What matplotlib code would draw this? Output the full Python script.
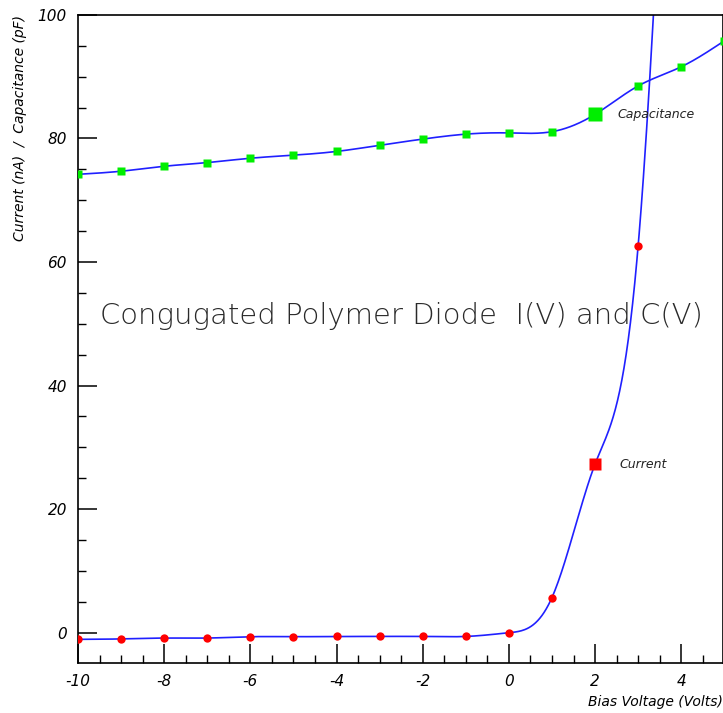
import numpy as np
import matplotlib.pyplot as plt
from matplotlib.ticker import MultipleLocator

plt.rcParams["axes.unicode_minus"] = False

# bias voltage points
voltage = [-10, -9, -8, -7, -6, -5, -4, -3, -2, -1, 0, 1, 2, 3, 4, 5]
# capacitance (pF)
capacitance = [74.2, 74.7, 75.5, 76.1, 76.8, 77.3, 77.9, 78.9, 79.9, 80.7,
               80.9, 81.1, 83.9, 88.5, 91.6, 95.8]
# current (nA); last two points are off the top of the frame
current = [-1.07, -1.0, -0.86, -0.86, -0.64, -0.64, -0.6, -0.6, -0.6, -0.6,
           0.0, 5.7, 27.3, 62.6, 190.0, 320.0]

title = "Congugated Polymer Diode  I(V) and C(V)"


def spline(x, y, n=600):
    # natural cubic spline, used only to draw the smooth curve through the points
    x = np.asarray(x, float)
    y = np.asarray(y, float)
    h = np.diff(x)
    m = len(x)
    A = np.zeros((m, m))
    b = np.zeros(m)
    A[0, 0] = A[-1, -1] = 1
    for i in range(1, m - 1):
        A[i, i - 1] = h[i - 1]
        A[i, i] = 2 * (h[i - 1] + h[i])
        A[i, i + 1] = h[i]
        b[i] = 6 * ((y[i + 1] - y[i]) / h[i] - (y[i] - y[i - 1]) / h[i - 1])
    M = np.linalg.solve(A, b)
    xs = np.linspace(x[0], x[-1], n)
    k = np.clip(np.searchsorted(x, xs) - 1, 0, m - 2)
    t0 = xs - x[k]
    t1 = x[k + 1] - xs
    hk = h[k]
    ys = (M[k] * t1**3 + M[k + 1] * t0**3) / (6 * hk) \
        + (y[k] / hk - M[k] * hk / 6) * t1 + (y[k + 1] / hk - M[k + 1] * hk / 6) * t0
    return xs, ys


fig = plt.figure(figsize=(7.23, 7.13), dpi=100)
ax = fig.add_axes([0.108, 0.0701, 0.892, 0.909])

line_col = "#2020ff"
xs, ys = spline(voltage, capacitance)
ax.plot(xs, ys, color=line_col, lw=1.2, zorder=2)
xs, ys = spline(voltage, current)
ax.plot(xs, ys, color=line_col, lw=1.2, zorder=2)

ax.plot(voltage, capacitance, "s", color="#00ee00", ms=6, mec="none", zorder=3)
ax.plot(voltage, current, "o", color="#ff0000", ms=6, mec="none", zorder=3)
# bigger markers where the labels are attached
ax.plot(voltage[12], capacitance[12], "s", color="#00ee00", ms=10, mec="none", zorder=3)
ax.plot(voltage[12], current[12], "s", color="#ff0000", ms=9, mec="none", zorder=3)

ax.text(2.52, capacitance[12], "Capacitance", fontsize=9, style="italic",
        va="center", ha="left", color="#222222")
ax.text(2.57, current[12], "Current", fontsize=9, style="italic",
        va="center", ha="left", color="#222222")
ax.text(-9.5, 51.2, title, fontsize=21, family="DejaVu Sans",
        fontweight="light", va="center", ha="left", color="#2a2a2a")

ax.set_xlim(-10, 4.97)
ax.set_ylim(-4.9, 100)
ax.xaxis.set_major_locator(MultipleLocator(2))
ax.xaxis.set_minor_locator(MultipleLocator(0.5))
ax.yaxis.set_major_locator(MultipleLocator(20))
ax.yaxis.set_minor_locator(MultipleLocator(5))
ax.tick_params(which="major", direction="in", length=14, width=1.1,
               labelsize=11, pad=8)
ax.tick_params(which="minor", direction="in", length=6, width=1.0)
for lab in ax.get_xticklabels() + ax.get_yticklabels():
    lab.set_style("italic")

for s in ax.spines.values():
    s.set_linewidth(1.2)

ax.set_xlabel("Bias Voltage (Volts)", fontsize=10, style="italic", loc="right",
              labelpad=4)
ax.set_ylabel("Current (nA)  /  Capacitance (pF)", fontsize=10, style="italic",
              loc="top", labelpad=8)

fig.savefig("out.png", dpi=100)
